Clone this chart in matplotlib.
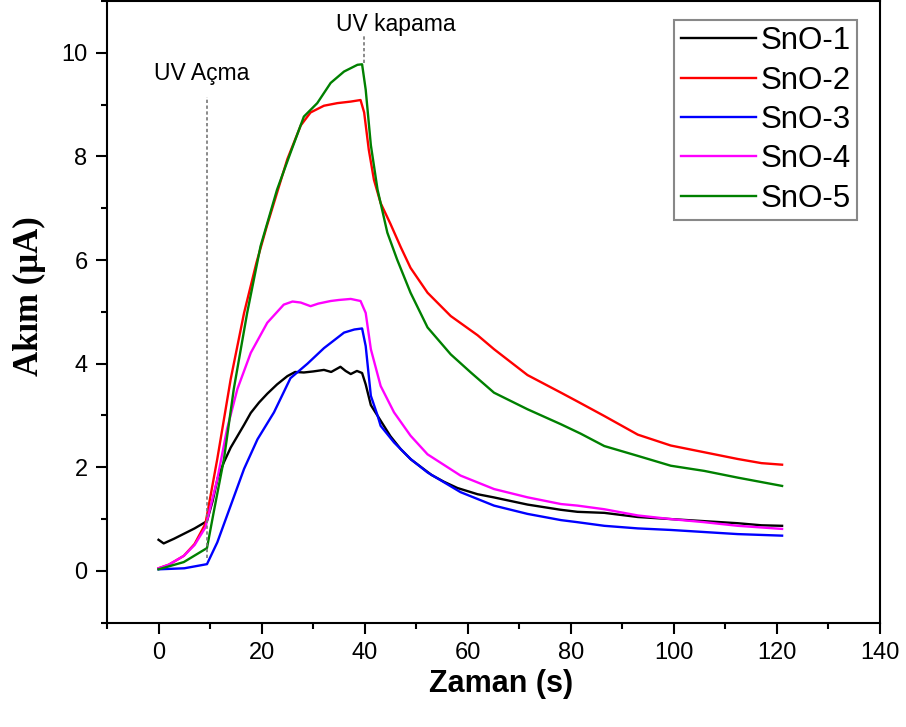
import matplotlib
matplotlib.use("Agg")
import matplotlib.pyplot as plt
from matplotlib.ticker import MultipleLocator

plt.rcParams['font.family'] = ['Liberation Sans', 'DejaVu Sans']

# ---- data ----
t1 = [0, 1, 3, 5, 7, 9.4, 10.5, 11.5, 12.7, 14, 15.3, 16.6, 17.9, 19.5, 21.1, 23, 25, 26.5,
      28.2, 30, 32.1, 33.5, 35.3, 36.3, 37.3, 38.5, 39.5, 40.2, 41.2, 43.1, 45, 47, 49, 51,
      53, 55.4, 58, 61.9, 65, 68.3, 71.6, 74.8, 78, 81.3, 86.5, 93, 99.4, 105.9, 112.4, 117, 121]
v1 = [0.6, 0.53, 0.62, 0.72, 0.82, 0.96, 1.35, 1.8, 2.1, 2.38, 2.6, 2.82, 3.05, 3.25, 3.42, 3.6,
      3.76, 3.84, 3.83, 3.85, 3.88, 3.84, 3.94, 3.86, 3.80, 3.86, 3.82, 3.6, 3.2, 2.9, 2.6, 2.35,
      2.15, 2.0, 1.85, 1.72, 1.6, 1.48, 1.42, 1.35, 1.28, 1.23, 1.18, 1.14, 1.12, 1.04, 1.0, 0.96,
      0.92, 0.88, 0.87]

t2 = [0, 2, 4.9, 7, 9.1, 11.4, 14, 16.6, 19, 21, 23, 25, 27.6, 29.5, 32.1, 34.7, 37.3, 39.2,
      39.9, 40.8, 41.8, 43.1, 45, 47, 48.9, 52.2, 56.7, 61.9, 65.1, 71.6, 78.1, 81.3, 86.5, 93,
      99.4, 105.9, 112.4, 117, 121]
v2 = [0.05, 0.12, 0.29, 0.52, 0.91, 2.16, 3.70, 4.98, 5.95, 6.65, 7.3, 7.95, 8.6, 8.85, 8.98,
      9.03, 9.06, 9.09, 8.85, 8.13, 7.55, 7.1, 6.7, 6.25, 5.85, 5.37, 4.92, 4.55, 4.28, 3.78,
      3.44, 3.27, 2.99, 2.63, 2.42, 2.29, 2.16, 2.08, 2.05]

t3 = [0, 5, 9.4, 11.4, 14, 16.6, 19.2, 22.4, 25.6, 28.9, 32.1, 36, 38, 39.5, 40.2, 41.2, 42.5,
      43.1, 45.7, 48.9, 52.2, 58.6, 65.1, 71.6, 78.1, 81.3, 86.5, 93, 99.4, 105.9, 112.4, 121]
v3 = [0.03, 0.05, 0.13, 0.55, 1.26, 1.97, 2.54, 3.06, 3.72, 4.0, 4.3, 4.6, 4.66, 4.68, 4.34,
      3.38, 3.0, 2.80, 2.48, 2.16, 1.90, 1.52, 1.26, 1.10, 0.98, 0.94, 0.87, 0.82, 0.79, 0.75,
      0.71, 0.68]

t4 = [0, 2, 4.9, 7, 9.1, 11.4, 13.3, 15.3, 17.9, 21.1, 24.3, 26, 27.6, 29.5, 31, 33.4, 35,
      37.3, 39.2, 40.2, 41.2, 43.1, 45.7, 48.9, 52.2, 58.6, 65.1, 71.6, 78.1, 81.3, 86.5, 93,
      99.4, 105.9, 112.4, 121]
v4 = [0.05, 0.12, 0.29, 0.5, 0.84, 1.77, 2.74, 3.51, 4.21, 4.79, 5.14, 5.2, 5.18, 5.11, 5.16,
      5.21, 5.23, 5.25, 5.21, 4.98, 4.28, 3.57, 3.06, 2.61, 2.25, 1.84, 1.58, 1.42, 1.29, 1.26,
      1.19, 1.07, 1.0, 0.94, 0.87, 0.81]

t5 = [0, 4.9, 9.4, 10.7, 12.7, 14.6, 17.2, 19.8, 23, 25.6, 28.2, 30.8, 33.4, 36, 38.6, 39.5,
      40.2, 41.2, 42.5, 44.4, 46.3, 48.9, 52.2, 56.7, 60.6, 65.1, 71.6, 78.1, 81.9, 86.5, 93,
      99.4, 105.9, 112.4, 121]
v5 = [0.03, 0.17, 0.44, 1.13, 2.16, 3.51, 4.98, 6.27, 7.36, 8.07, 8.77, 9.03, 9.42, 9.64,
      9.77, 9.78, 9.29, 8.22, 7.36, 6.53, 6.01, 5.37, 4.7, 4.18, 3.83, 3.44, 3.12, 2.83, 2.65,
      2.41, 2.22, 2.03, 1.93, 1.80, 1.64]

labels = ['SnO-1', 'SnO-2', 'SnO-3', 'SnO-4', 'SnO-5']
colors = ['#000000', '#ff0000', '#0000ff', '#ff00ff', '#008000']
series = [(t1, v1), (t2, v2), (t3, v3), (t4, v4), (t5, v5)]

uv_on_t, uv_on_y = 9.5, (0.25, 9.15)
uv_off_t, uv_off_y = 39.8, (9.8, 10.35)

fig = plt.figure(figsize=(9.06, 7.27), dpi=100)
ax = fig.add_axes([0.1181, 0.1435, 0.8532, 0.8550])

for (t, v), lab, c in zip(series, labels, colors):
    ax.plot(t, v, color=c, lw=1.7, label=lab)

ax.plot([uv_on_t, uv_on_t], uv_on_y, color='#777777', lw=1.2, ls=(0, (2, 1.5)))
ax.plot([uv_off_t, uv_off_t], uv_off_y, color='#777777', lw=1.2, ls=(0, (2, 1.5)))
ax.text(8.3, 9.6, 'UV Açma', fontsize=16.5, ha='center', va='center')
ax.text(46, 10.55, 'UV kapama', fontsize=16.5, ha='center', va='center')

ax.set_xlim(-10, 140)
ax.set_ylim(-1, 11)
ax.xaxis.set_major_locator(MultipleLocator(20))
ax.xaxis.set_minor_locator(MultipleLocator(10))
ax.yaxis.set_major_locator(MultipleLocator(2))
ax.yaxis.set_minor_locator(MultipleLocator(1))
ax.set_yticks([0, 2, 4, 6, 8, 10])
ax.tick_params(which='major', direction='out', length=8, width=1.5, labelsize=17, pad=6)
ax.tick_params(which='minor', direction='out', length=4.5, width=1.5)
ax.tick_params(top=False, right=False, which='both')
for s in ax.spines.values():
    s.set_linewidth(1.5)

ax.set_xlabel('Zaman (s)', fontsize=22, fontweight='bold', labelpad=5)
ax.xaxis.set_label_coords(0.51, -0.075)
ax.set_ylabel('Akım (μA)', fontsize=25, fontweight='bold',
              family=['Liberation Serif', 'DejaVu Serif'])
ax.yaxis.set_label_coords(-0.079, 0.526)

leg = ax.legend(loc='upper right', bbox_to_anchor=(0.970, 0.9695), fontsize=22.5,
                frameon=True, fancybox=False, edgecolor='#888888', framealpha=1,
                handlelength=2.4, handletextpad=0.15, labelspacing=0.3,
                borderpad=0.2, borderaxespad=0)
leg.get_frame().set_linewidth(1.5)

fig.savefig('out.png', dpi=100)
